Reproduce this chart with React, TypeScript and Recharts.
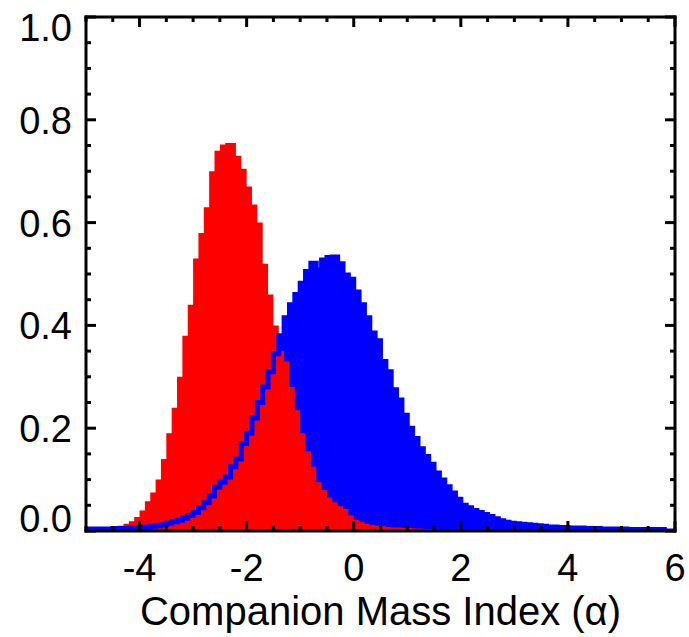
import { ComposedChart, Area, Line, XAxis, YAxis } from 'recharts'

// histogram bins: left edge of bin i = BIN_START + i * BIN_WIDTH
const BIN_START = -5
const BIN_WIDTH = 0.1

const redCounts = [
  0.003, 0.003, 0.004, 0.005, 0.006, 0.008, 0.010, 0.014, 0.019, 0.027,
  0.040, 0.058, 0.075, 0.100, 0.140, 0.190, 0.240, 0.300, 0.380, 0.440,
  0.530, 0.580, 0.630, 0.700, 0.740, 0.752, 0.755, 0.755, 0.730, 0.705,
  0.670, 0.635, 0.600, 0.520, 0.460, 0.400, 0.350, 0.330, 0.280, 0.235,
  0.190, 0.155, 0.125, 0.095, 0.080, 0.065, 0.056, 0.048, 0.043, 0.030,
  0.022, 0.018, 0.014, 0.012, 0.010, 0.009, 0.008, 0.007, 0.007, 0.006,
  0.006, 0.005, 0.005, 0.004, 0.004, 0.003, 0.003, 0.003, 0.003, 0.003,
  0.003, 0.003, 0.003, 0.003, 0.003, 0.002, 0.002, 0.002, 0.002, 0.002,
  0, 0, 0, 0, 0, 0, 0, 0, 0, 0,
  0, 0, 0, 0, 0, 0, 0, 0, 0, 0,
  0, 0, 0, 0, 0, 0, 0, 0, 0, 0,
]

const blueCounts = [
  0.004, 0.004, 0.004, 0.004, 0.004, 0.005, 0.005, 0.005, 0.006, 0.006,
  0.007, 0.008, 0.009, 0.010, 0.012, 0.015, 0.018, 0.021, 0.025, 0.030,
  0.036, 0.045, 0.055, 0.068, 0.085, 0.095, 0.105, 0.125, 0.140, 0.170,
  0.190, 0.220, 0.250, 0.280, 0.310, 0.345, 0.380, 0.415, 0.440, 0.460,
  0.482, 0.505, 0.521, 0.508, 0.527, 0.532, 0.533, 0.520, 0.498, 0.490,
  0.465, 0.440, 0.415, 0.385, 0.370, 0.330, 0.310, 0.275, 0.255, 0.225,
  0.200, 0.180, 0.160, 0.145, 0.130, 0.113, 0.099, 0.086, 0.074, 0.062,
  0.050, 0.045, 0.040, 0.036, 0.032, 0.028, 0.024, 0.020, 0.017, 0.015,
  0.014, 0.013, 0.012, 0.011, 0.010, 0.009, 0.008, 0.008, 0.007, 0.007,
  0.006, 0.006, 0.006, 0.005, 0.005, 0.005, 0.004, 0.004, 0.004, 0.004,
  0.004, 0.003, 0.003, 0.003, 0.003, 0.003, 0.003, 0.003, 0, 0,
]

const xTicks = [
  -5, -4.5, -4, -3.5, -3, -2.5, -2, -1.5, -1, -0.5, 0, 0.5,
  1, 1.5, 2, 2.5, 3, 3.5, 4, 4.5, 5, 5.5, 6,
]
const xLabelTicks = [-4, -2, 0, 2, 4, 6]

const yTicks = [
  0, 0.05, 0.1, 0.15, 0.2, 0.25, 0.3, 0.35, 0.4, 0.45, 0.5,
  0.55, 0.6, 0.65, 0.7, 0.75, 0.8, 0.85, 0.9, 0.95, 1,
]
const yLabelTicks = [0, 0.2, 0.4, 0.6, 0.8, 1]

const data = redCounts.map((r, i) => ({
  x: Math.round((BIN_START + i * BIN_WIDTH) * 10) / 10,
  red: r,
  blue: blueCounts[i],
}))
data.push({ x: 6, red: 0, blue: 0 })

const FONT = "'Liberation Sans', Arial, Helvetica, sans-serif"
const MAJOR = 10
const MINOR = 5

const isMajor = (list: number[], v: number) => list.some((t) => Math.abs(t - v) < 1e-6)

function BottomTick({ x, y, payload }: any) {
  const v = payload.value
  const major = isMajor(xLabelTicks, v)
  return (
    <g>
      <line x1={x} x2={x} y1={y} y2={y - (major ? MAJOR : MINOR)} stroke='#000' strokeWidth={3} />
      {major && (
        <text x={x} y={y + 50} textAnchor='middle' fontSize={38} fontFamily={FONT} fill='#000'>
          {String(v)}
        </text>
      )}
    </g>
  )
}

function TopTick({ x, y, payload }: any) {
  const major = isMajor(xLabelTicks, payload.value)
  return <line x1={x} x2={x} y1={y} y2={y + (major ? MAJOR : MINOR)} stroke='#000' strokeWidth={3} />
}

function LeftTick({ x, y, payload }: any) {
  const v = payload.value
  const major = isMajor(yLabelTicks, v)
  // first and last labels are pulled inside the axis range
  const shift = v === 0 ? -13 : v === 1 ? 10 : 0
  return (
    <g>
      <line x1={x} x2={x + (major ? MAJOR : MINOR)} y1={y} y2={y} stroke='#000' strokeWidth={3} />
      {major && (
        <text x={x - 14} y={y + 14 + shift} textAnchor='end' fontSize={38} fontFamily={FONT} fill='#000'>
          {v.toFixed(1)}
        </text>
      )}
    </g>
  )
}

function RightTick({ x, y, payload }: any) {
  const major = isMajor(yLabelTicks, payload.value)
  return <line x1={x} x2={x - (major ? MAJOR : MINOR)} y1={y} y2={y} stroke='#000' strokeWidth={3} />
}

const axisLine = { stroke: '#000', strokeWidth: 3, strokeLinecap: 'square' as const }

export default function App() {
  return (
    <div style={{ position: 'absolute', left: 0, top: 0, width: 689, height: 637, background: '#fff' }}>
      <ComposedChart width={689} height={637} data={data} margin={{ top: 0, right: 0, bottom: 0, left: 0 }}>
        <XAxis
          xAxisId='b'
          dataKey='x'
          type='number'
          domain={[-5, 6]}
          ticks={xTicks}
          interval={0}
          height={106}
          tickSize={0}
          tickMargin={0}
          axisLine={axisLine}
          tick={BottomTick}
          allowDataOverflow
          label={{
            content: ({ viewBox }: any) => (
              <text
                x={viewBox.x + viewBox.width / 2}
                y={viewBox.y + 94}
                textAnchor='middle'
                fontSize={40}
                fontFamily={FONT}
                fill='#000'
              >
                Companion Mass Index (α)
              </text>
            ),
          }}
        />
        <XAxis
          xAxisId='t'
          orientation='top'
          dataKey='x'
          type='number'
          domain={[-5, 6]}
          ticks={xTicks}
          interval={0}
          height={17}
          tickSize={0}
          tickMargin={0}
          axisLine={axisLine}
          tick={TopTick}
          allowDataOverflow
        />
        <YAxis
          yAxisId='l'
          type='number'
          domain={[0, 1]}
          ticks={yTicks}
          interval={0}
          width={86}
          tickSize={0}
          tickMargin={0}
          axisLine={axisLine}
          tick={LeftTick}
          allowDataOverflow
        />
        <YAxis
          yAxisId='r'
          orientation='right'
          type='number'
          domain={[0, 1]}
          ticks={yTicks}
          interval={0}
          width={14}
          tickSize={0}
          tickMargin={0}
          axisLine={axisLine}
          tick={RightTick}
          allowDataOverflow
        />
        <Area
          xAxisId='b'
          yAxisId='l'
          dataKey='blue'
          type='stepAfter'
          fill='#0000ff'
          fillOpacity={1}
          stroke='none'
          isAnimationActive={false}
        />
        <Area
          xAxisId='b'
          yAxisId='l'
          dataKey='red'
          type='stepAfter'
          fill='#ff0000'
          fillOpacity={1}
          stroke='none'
          isAnimationActive={false}
        />
        <Line
          xAxisId='b'
          yAxisId='l'
          dataKey='blue'
          type='stepAfter'
          stroke='#0000ff'
          strokeWidth={5}
          dot={false}
          activeDot={false}
          isAnimationActive={false}
        />
      </ComposedChart>
    </div>
  )
}
